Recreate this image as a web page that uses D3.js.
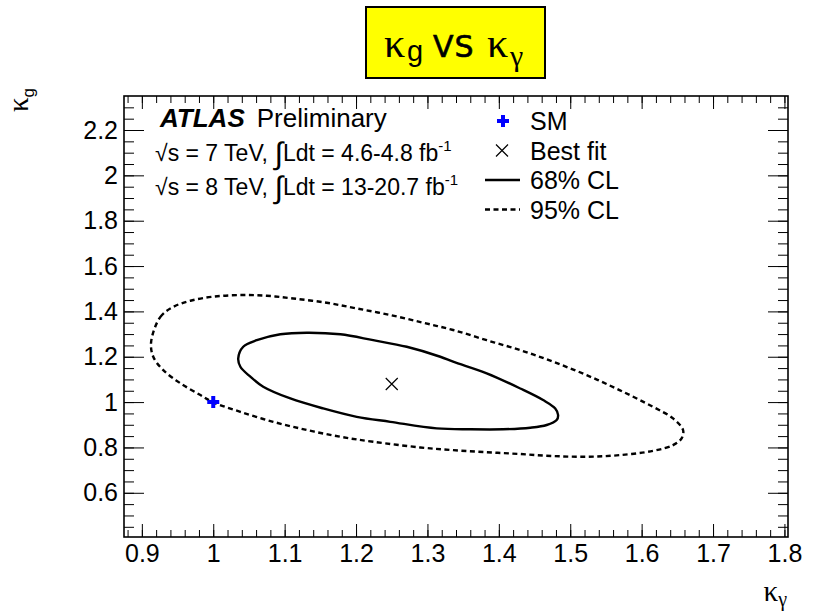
<!DOCTYPE html>
<html>
<head>
<meta charset="utf-8">
<title>kg vs kgamma</title>
<style>
  body { margin: 0; background: #fff; }
  svg { display: block; }
  text { font-family: "Liberation Sans", Arial, sans-serif; fill: #000; }
  .sym { font-family: "Liberation Serif", "DejaVu Serif", serif; }
  .tick line { stroke: #000; stroke-width: 1; }
  .tick text { font-size: 25px; }
</style>
</head>
<body>
<div id="chart"></div>
<script src="https://d3js.org/d3.v7.min.js"></script>
<script>
// axis ticks
const xMajor = [0.9, 1.0, 1.1, 1.2, 1.3, 1.4, 1.5, 1.6, 1.7, 1.8];
const xMajorLabels = ["0.9", "1", "1.1", "1.2", "1.3", "1.4", "1.5", "1.6", "1.7", "1.8"];
const yMajor = [0.6, 0.8, 1.0, 1.2, 1.4, 1.6, 1.8, 2.0, 2.2];
const yMajorLabels = ["0.6", "0.8", "1", "1.2", "1.4", "1.6", "1.8", "2", "2.2"];

// 68% CL contour (kappa_gamma, kappa_g)
const contour68 = [
  [1.035, 1.193], [1.042, 1.244], [1.061, 1.273], [1.094, 1.299], [1.131, 1.306],
  [1.178, 1.299], [1.224, 1.273], [1.271, 1.244], [1.318, 1.200], [1.336, 1.178],
  [1.383, 1.127], [1.430, 1.060], [1.462, 1.009], [1.479, 0.972], [1.483, 0.943],
  [1.481, 0.921], [1.467, 0.899], [1.444, 0.887], [1.406, 0.880], [1.360, 0.880],
  [1.313, 0.884], [1.248, 0.913], [1.201, 0.935], [1.154, 0.972], [1.108, 1.016],
  [1.070, 1.068], [1.052, 1.112], [1.038, 1.156]
];

// 95% CL contour
const contour95 = [
  [0.913, 1.266], [0.926, 1.376], [0.944, 1.420], [0.968, 1.447], [1.000, 1.465],
  [1.038, 1.472], [1.075, 1.469], [1.112, 1.457], [1.159, 1.438], [1.201, 1.413],
  [1.248, 1.384], [1.294, 1.350], [1.336, 1.318], [1.383, 1.273], [1.430, 1.229],
  [1.476, 1.178], [1.523, 1.119], [1.569, 1.053], [1.616, 0.979], [1.644, 0.928],
  [1.658, 0.877], [1.656, 0.840], [1.644, 0.810], [1.616, 0.785], [1.569, 0.766],
  [1.523, 0.759], [1.476, 0.762], [1.430, 0.771], [1.383, 0.779], [1.336, 0.788],
  [1.290, 0.800], [1.224, 0.825], [1.178, 0.847], [1.131, 0.877], [1.084, 0.913],
  [1.038, 0.957], [1.000, 0.999], [0.982, 1.031], [0.954, 1.083], [0.930, 1.141],
  [0.916, 1.200]
];

const smPoint = [1.0, 1.0];
const bestFit = [1.25, 1.08];
const legendLabels = ["SM", "Best fit", "68% CL", "95% CL"];

const W = 813, H = 611;
const fr = { left: 124, right: 788, top: 96, bottom: 537 };

const svg = d3.select("#chart").append("svg")
  .attr("width", W).attr("height", H);

const x = d3.scaleLinear().domain([0.875, 1.805]).range([fr.left, fr.right]);
const y = d3.scaleLinear().domain([0.405, 2.35]).range([fr.bottom, fr.top]);

// minor ticks
const xMinor = d3.range(44, 91).map(i => i / 50);
const yMinor = d3.range(9, 47).map(i => i / 20);

function addAxis(axis, tx, ty) {
  const g = svg.append("g").attr("transform", "translate(" + tx + "," + ty + ")").call(axis);
  g.select(".domain").remove();
  return g;
}

addAxis(d3.axisBottom(x).tickValues(xMinor).tickSize(-7).tickFormat(""), 0, fr.bottom);
addAxis(d3.axisTop(x).tickValues(xMinor).tickSize(-7).tickFormat(""), 0, fr.top);
addAxis(d3.axisLeft(y).tickValues(yMinor).tickSize(-10).tickFormat(""), fr.left, 0);
addAxis(d3.axisRight(y).tickValues(yMinor).tickSize(-10).tickFormat(""), fr.right, 0);

addAxis(d3.axisBottom(x).tickValues(xMajor).tickSize(-13).tickPadding(7)
  .tickFormat((d, i) => xMajorLabels[i]), 0, fr.bottom);
addAxis(d3.axisTop(x).tickValues(xMajor).tickSize(-13).tickFormat(""), 0, fr.top);
addAxis(d3.axisLeft(y).tickValues(yMajor).tickSize(-20).tickPadding(6)
  .tickFormat((d, i) => yMajorLabels[i]), fr.left, 0);
addAxis(d3.axisRight(y).tickValues(yMajor).tickSize(-20).tickFormat(""), fr.right, 0);

svg.selectAll(".tick text").attr("fill", "#000");

// frame
svg.append("rect")
  .attr("x", fr.left).attr("y", fr.top)
  .attr("width", fr.right - fr.left).attr("height", fr.bottom - fr.top)
  .attr("fill", "none").attr("stroke", "#000").attr("stroke-width", 1.6);

// contours
const line = d3.line()
  .x(d => x(d[0])).y(d => y(d[1]))
  .curve(d3.curveCatmullRomClosed.alpha(0.5));

svg.append("path").datum(contour95)
  .attr("d", line).attr("fill", "none")
  .attr("stroke", "#000").attr("stroke-width", 2.4)
  .attr("stroke-dasharray", "5,3.5");

svg.append("path").datum(contour68)
  .attr("d", line).attr("fill", "none")
  .attr("stroke", "#000").attr("stroke-width", 2.4);

// markers
const cross = d3.symbol().type(d3.symbolCross).size(80);
function drawSM(cx, cy) {
  svg.append("path").attr("d", cross)
    .attr("transform", "translate(" + cx + "," + cy + ")")
    .attr("fill", "#0000ff");
}
function drawX(cx, cy) {
  const s = 6;
  svg.append("path")
    .attr("d", "M" + (cx - s) + "," + (cy - s) + "L" + (cx + s) + "," + (cy + s) +
               "M" + (cx - s) + "," + (cy + s) + "L" + (cx + s) + "," + (cy - s))
    .attr("stroke", "#000").attr("stroke-width", 1.2).attr("fill", "none");
}
drawSM(x(smPoint[0]), y(smPoint[1]));
drawX(x(bestFit[0]), y(bestFit[1]));

// legend
const legX = 530, legY = [121, 150.5, 180, 209.5];
drawSM(503, legY[0]);
drawX(502, legY[1]);
svg.append("line").attr("x1", 485).attr("x2", 520).attr("y1", legY[2]).attr("y2", legY[2])
  .attr("stroke", "#000").attr("stroke-width", 2.4);
svg.append("line").attr("x1", 485).attr("x2", 520).attr("y1", legY[3]).attr("y2", legY[3])
  .attr("stroke", "#000").attr("stroke-width", 2.4).attr("stroke-dasharray", "5,3.5");
svg.selectAll(".leg").data(legendLabels).enter().append("text")
  .attr("class", "leg")
  .attr("x", legX).attr("y", (d, i) => legY[i] + 9)
  .attr("font-size", 25)
  .text(d => d);

// ATLAS label
const atl = svg.append("text").attr("x", 160).attr("y", 127).attr("font-size", 26);
atl.append("tspan").attr("font-weight", "bold").attr("font-style", "italic").text("ATLAS");
atl.append("tspan").attr("dx", 12).text("Preliminary");

function lumiLine(yb, energy, lumi) {
  const t = svg.append("text").attr("x", 155).attr("y", yb).attr("font-size", 23);
  t.append("tspan").text("\u221A");
  t.append("tspan").text("s = " + energy + " TeV, ");
  t.append("tspan").attr("font-size", 31).attr("dy", 3).text("\u222B");
  t.append("tspan").attr("dy", -3).text("Ldt = " + lumi + " fb");
  t.append("tspan").attr("font-size", 15).attr("dy", -10).text("-1");
}
lumiLine(161, "7", "4.6-4.8");
lumiLine(195, "8", "13-20.7");

// axis titles
const yt = svg.append("text")
  .attr("transform", "translate(28,88) rotate(-90)")
  .attr("text-anchor", "end");
yt.append("tspan").attr("class", "sym").attr("font-size", 29).text("\u03BA");
yt.append("tspan").attr("font-size", 17).attr("dy", 6).text("g");

const xt = svg.append("text").attr("x", 787).attr("y", 601).attr("text-anchor", "end");
xt.append("tspan").attr("class", "sym").attr("font-size", 29).text("\u03BA");
xt.append("tspan").attr("class", "sym").attr("font-size", 20).attr("dy", 5).text("\u03B3");

// title box
svg.append("rect").attr("x", 366).attr("y", 7).attr("width", 179).attr("height", 71)
  .attr("fill", "#ffff00").attr("stroke", "#000").attr("stroke-width", 2);
const tt = svg.append("text").attr("y", 57);
tt.append("tspan").attr("class", "sym").attr("x", 384).attr("font-size", 42).text("\u03BA");
tt.append("tspan").attr("x", 407).attr("y", 61).attr("font-size", 29).text("g");
tt.append("tspan").attr("x", 433).attr("y", 57)
  .attr("font-family", "DejaVu Sans").attr("font-size", 30).attr("letter-spacing", 1)
  .attr("stroke", "#000").attr("stroke-width", 0.6).text("VS");
tt.append("tspan").attr("class", "sym").attr("x", 487).attr("font-size", 42).text("\u03BA");
tt.append("tspan").attr("class", "sym").attr("x", 510).attr("y", 66).attr("font-size", 30).text("\u03B3");
</script>
</body>
</html>
